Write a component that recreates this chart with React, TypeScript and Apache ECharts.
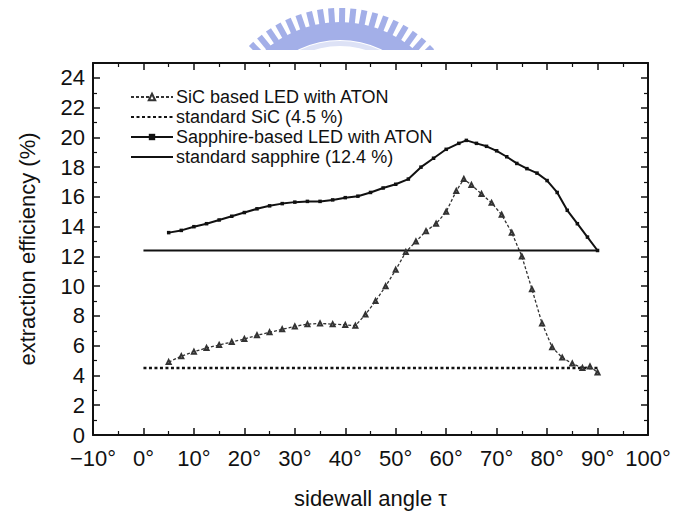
import React, { useEffect, useRef } from "react";
import * as echarts from "echarts";

const sicAtonX = [5, 7.5, 10, 12.5, 15, 17.5, 20, 22.5, 25, 27.5, 30, 32.5, 35, 37.5, 40, 42, 44, 46, 48, 50, 52, 54, 56, 58, 60, 62, 63.5, 65, 67, 69, 71, 73, 75, 77, 79, 81, 83, 85, 87, 88.5, 90];
const sicAtonY = [4.9, 5.3, 5.6, 5.85, 6.05, 6.25, 6.45, 6.7, 6.9, 7.1, 7.3, 7.45, 7.5, 7.45, 7.4, 7.35, 8.1, 9.0, 10.0, 11.1, 12.3, 13.0, 13.7, 14.2, 15.0, 16.4, 17.2, 16.8, 16.2, 15.6, 14.8, 13.6, 12.0, 9.8, 7.5, 5.9, 5.2, 4.8, 4.5, 4.6, 4.2];

const sapAtonX = [5, 7.5, 10, 12.5, 15, 17.5, 20, 22.5, 25, 27.5, 30, 32.5, 35, 37.5, 40, 42.5, 45, 47.5, 50, 52.5, 55, 57.5, 60, 62.5, 64, 66, 68, 70, 72, 74, 76, 78, 80, 82, 84, 86, 88, 90];
const sapAtonY = [13.6, 13.75, 14.0, 14.2, 14.45, 14.7, 14.95, 15.2, 15.4, 15.55, 15.65, 15.7, 15.7, 15.8, 15.95, 16.05, 16.3, 16.6, 16.85, 17.2, 18.0, 18.6, 19.2, 19.6, 19.8, 19.6, 19.4, 19.1, 18.7, 18.25, 17.9, 17.6, 17.1, 16.3, 15.1, 14.2, 13.3, 12.4];

const stdX = [0, 90];
const stdSicY = [4.5, 4.5];
const stdSapY = [12.4, 12.4];

const seriesNames = [
  "SiC based LED with ATON",
  "standard SiC (4.5 %)",
  "Sapphire-based LED with ATON",
  "standard sapphire (12.4 %)",
];

const xTicks = { min: -10, max: 100, interval: 10 };
const yTicks = { min: 0, max: 25, interval: 2 };

const FONT = "Liberation Sans, Arial, Helvetica, sans-serif";
const INK = "#111111";

function pairs(xs: number[], ys: number[]) {
  return xs.map((x, i) => [x, ys[i]]);
}

function logoGraphics() {
  const cx = 340;
  const cy = 136;
  const blue = "#a3afe8";
  const els: any[] = [];
  const deg = (d: number) => (d * Math.PI) / 180;
  els.push({
    type: "sector",
    z: -3,
    silent: true,
    shape: { cx, cy, r0: 96, r: 114, startAngle: deg(-140), endAngle: deg(-40) },
    style: { fill: blue },
  });
  els.push({
    type: "sector",
    z: -3,
    silent: true,
    shape: { cx, cy, r0: 90, r: 95, startAngle: deg(-140), endAngle: deg(-40) },
    style: { fill: "#dde2f6" },
  });
  for (let a = 44; a <= 136.5; a += 5) {
    const rad = deg(a);
    const r1 = 112;
    const r2 = 128;
    els.push({
      type: "line",
      z: -3,
      silent: true,
      shape: {
        x1: cx + r1 * Math.cos(rad),
        y1: cy - r1 * Math.sin(rad),
        x2: cx + r2 * Math.cos(rad),
        y2: cy - r2 * Math.sin(rad),
      },
      style: { stroke: blue, lineWidth: 6 },
    });
  }
  els.push({
    type: "rect",
    z: -2,
    silent: true,
    shape: { x: 180, y: 50, width: 330, height: 40 },
    style: { fill: "#ffffff" },
  });
  return els;
}

export default function App() {
  const ref = useRef<HTMLDivElement>(null);
  useEffect(() => {
    if (!ref.current) return;
    const chart = echarts.init(ref.current, undefined, { renderer: "svg" });
    const axisLine = { show: true, onZero: false, lineStyle: { color: INK, width: 2 } };
    const tick = { show: true, inside: true, length: 7, lineStyle: { color: INK, width: 1.5 } };
    const minor = { show: true, splitNumber: 2, length: 4, lineStyle: { color: INK, width: 1.2 } };
    const xFmt = (v: number) => (v < 0 ? "\u2212" + Math.abs(v) + "°" : v + "°");
    chart.setOption({
      animation: false,
      textStyle: { fontFamily: FONT },
      graphic: logoGraphics(),
      grid: { left: 93, right: 31, top: 63, bottom: 80 },
      legend: {
        orient: "vertical",
        left: 130,
        top: 88,
        padding: 0,
        itemWidth: 42,
        itemHeight: 8,
        itemGap: 2,
        textStyle: { fontSize: 18, color: INK, fontFamily: FONT, padding: [0, 0, 0, -2] },
        data: [
          { name: seriesNames[0] },
          { name: seriesNames[1], itemStyle: { opacity: 0 } },
          { name: seriesNames[2] },
          { name: seriesNames[3], itemStyle: { opacity: 0 } },
        ],
      },
      xAxis: [
        {
          type: "value",
          position: "bottom",
          ...xTicks,
          axisLine,
          axisTick: tick,
          minorTick: minor,
          splitLine: { show: false },
          axisLabel: { formatter: xFmt, fontSize: 22, color: INK, margin: 12, fontFamily: FONT },
          name: "sidewall angle τ",
          nameLocation: "middle",
          nameGap: 52,
          nameTextStyle: { fontSize: 22, color: INK, fontFamily: FONT },
        },
        {
          type: "value",
          position: "top",
          ...xTicks,
          axisLine,
          axisTick: tick,
          minorTick: minor,
          splitLine: { show: false },
          axisLabel: { show: false },
        },
      ],
      yAxis: [
        {
          type: "value",
          position: "left",
          ...yTicks,
          axisLine,
          axisTick: tick,
          minorTick: minor,
          splitLine: { show: false },
          axisLabel: { fontSize: 22, color: INK, margin: 8, showMaxLabel: false, fontFamily: FONT },
          name: "extraction efficiency (%)",
          nameLocation: "middle",
          nameGap: 55,
          nameTextStyle: { fontSize: 22, color: INK, fontFamily: FONT },
        },
        {
          type: "value",
          position: "right",
          ...yTicks,
          axisLine,
          axisTick: tick,
          minorTick: minor,
          splitLine: { show: false },
          axisLabel: { show: false },
        },
      ],
      series: [
        {
          name: seriesNames[0],
          type: "line",
          data: pairs(sicAtonX, sicAtonY),
          symbol: "emptyTriangle",
          symbolSize: 4,
          itemStyle: { color: "#333333", borderWidth: 1 },
          lineStyle: { color: "#333333", width: 1.3, type: [3, 2] },
          z: 3,
        },
        {
          name: seriesNames[1],
          type: "line",
          data: pairs(stdX, stdSicY),
          symbol: "none",
          itemStyle: { color: INK },
          lineStyle: { color: INK, width: 2.5, type: [3, 2.5] },
          z: 3,
        },
        {
          name: seriesNames[2],
          type: "line",
          data: pairs(sapAtonX, sapAtonY),
          symbol: "rect",
          symbolSize: 3.5,
          itemStyle: { color: INK },
          lineStyle: { color: INK, width: 2 },
          z: 3,
        },
        {
          name: seriesNames[3],
          type: "line",
          data: pairs(stdX, stdSapY),
          symbol: "none",
          itemStyle: { color: INK },
          lineStyle: { color: INK, width: 2 },
          z: 3,
        },
      ],
    });
    return () => chart.dispose();
  }, []);
  return (
    <div
      ref={ref}
      style={{ position: "fixed", left: 0, top: 0, width: 679, height: 515, background: "#fff" }}
    />
  );
}
